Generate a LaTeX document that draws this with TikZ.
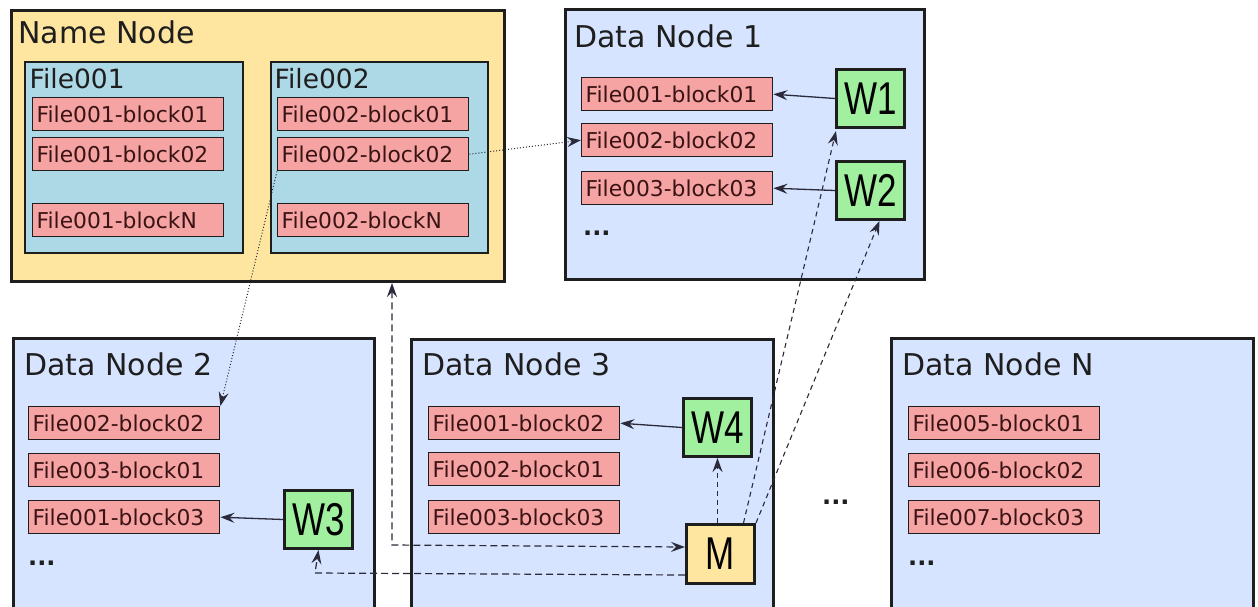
\documentclass[tikz,border=0pt]{standalone}
\usepackage{fontspec}
\setmainfont{DejaVu Sans}
\newfontfamily\wmfont[FakeStretch=0.76]{Liberation Sans}
\usetikzlibrary{arrows.meta}
\definecolor{nnfill}{HTML}{FFE6A0}
\definecolor{filefill}{HTML}{ADD8E6}
\definecolor{blkfill}{HTML}{F5A3A3}
\definecolor{dnfill}{HTML}{D6E4FF}
\definecolor{wfill}{HTML}{A0F0A0}
\definecolor{edge}{HTML}{1E1E1E}
\definecolor{blktext}{HTML}{3A1414}
\definecolor{linkcol}{HTML}{2A2A3A}

\tikzset{
  box/.style={draw=edge, anchor=north west, inner sep=0pt},
  nnbox/.style={box, fill=nnfill, line width=3pt},
  dnbox/.style={box, fill=dnfill, line width=2.5pt},
  filebox/.style={box, fill=filefill, line width=2pt},
  blk/.style={draw=edge, fill=blkfill, line width=1.4pt, anchor=north west,
    minimum height=33pt, text width=183pt, inner xsep=4pt, inner ysep=0pt,
    align=left, text=blktext, font=\fontsize{21.8pt}{24pt}\selectfont},
  worker/.style={box, fill=wfill, line width=3pt, minimum width=68pt, minimum height=58pt,
    font=\wmfont\fontsize{46pt}{50pt}\selectfont},
  master/.style={box, fill=nnfill, line width=3pt, minimum width=68pt, minimum height=59pt,
    font=\wmfont\fontsize{46pt}{50pt}\selectfont},
  title/.style={anchor=base west, inner sep=0pt, text=edge, font=\fontsize{30pt}{32pt}\selectfont},
  ftitle/.style={anchor=base west, inner sep=0pt, text=edge, font=\fontsize{26.5pt}{28pt}\selectfont},
  more/.style={anchor=base west, inner sep=0pt, text=edge, font=\bfseries\fontsize{24pt}{26pt}\selectfont},
  >={Stealth[length=14pt,width=10pt,inset=5pt]},
  write/.style={->, draw=linkcol, line width=1.3pt},
  ctrl/.style={draw=linkcol, line width=1.2pt, dash pattern=on 7pt off 4pt},
  ctrlfine/.style={->, draw=linkcol, line width=1.1pt, dash pattern=on 5pt off 4pt},
  repl/.style={->, draw=linkcol, line width=1pt, dotted},
}

\begin{document}
\begin{tikzpicture}[x=1pt,y=-1pt]
\useasboundingbox (0,0) rectangle (1258,606);
\clip (0,0) rectangle (1258,606);
\fill[white] (0,0) rectangle (1258,606);

% Name node with its file tables
\node[nnbox, minimum width=493pt, minimum height=271pt] (NN) at (10,9) {};
\node[title] (NNl) at (18,43) {Name Node};
\node[filebox, minimum width=218pt, minimum height=191pt] (F1) at (24,61) {};
\node[ftitle] (F1l) at (29.5,88) {File001};
\node[filebox, minimum width=217pt, minimum height=191pt] (F2) at (270,61) {};
\node[ftitle] (F2l) at (274.5,88) {File002};
\node[blk] (n11) at (32,97)  {File001-block01};
\node[blk] (n12) at (32,137) {File001-block02};
\node[blk] (n1N) at (32,203) {File001-blockN};
\node[blk] (n21) at (277,97)  {File002-block01};
\node[blk] (n22) at (277,137) {File002-block02};
\node[blk] (n2N) at (277,203) {File002-blockN};

% Data node 1
\node[dnbox, minimum width=359pt, minimum height=270pt] (D1) at (564,8) {};
\node[title] (D1l) at (574,47) {Data Node 1};
\node[blk] (d11) at (581,77)  {File001-block01};
\node[blk] (d12) at (581,123) {File002-block02};
\node[blk] (d13) at (581,171) {File003-block03};
\node[more] (d1m) at (583,235) {...};
\node[worker] (W1) at (835,68)  {W1};
\node[worker] (W2) at (835,160) {W2};

% Data node 2
\node[dnbox, minimum width=361pt, minimum height=300pt] (D2) at (12,337) {};
\node[title] (D2l) at (24,375) {Data Node 2};
\node[blk] (d21) at (28,406) {File002-block02};
\node[blk] (d22) at (28,453) {File003-block01};
\node[blk] (d23) at (28,500) {File001-block03};
\node[more] (d2m) at (28,565) {...};
\node[worker] (W3) at (283,489) {W3};

% Data node 3
\node[dnbox, minimum width=362pt, minimum height=300pt] (D3) at (410,338) {};
\node[title] (D3l) at (422,375) {Data Node 3};
\node[blk] (d31) at (428,406) {File001-block02};
\node[blk] (d32) at (428,452) {File002-block01};
\node[blk] (d33) at (428,500) {File003-block03};
\node[worker] (W4) at (682,397) {W4};
\node[master] (M) at (685,523) {M};

% Data node N
\node[dnbox, minimum width=362pt, minimum height=300pt] (DN) at (890,337) {};
\node[title] (DNl) at (902,375) {Data Node N};
\node[blk] (dN1) at (908,406) {File005-block01};
\node[blk] (dN2) at (908,453) {File006-block02};
\node[blk] (dN3) at (908,500) {File007-block03};
\node[more] (dNm) at (908,565) {...};
\node[more] (gap) at (822,504) {...};

% workers write blocks
\draw[write] (W1.west) -- (d11.east);
\draw[write] (W2.west) -- (d13.east);
\draw[write] (W3.west) -- (d23.east);
\draw[write] (W4.west) -- (d31.east);

% block locations known to the name node
\draw[repl] (n22.east) -- (d12.west);
\draw[repl] (n22.south west) -- (d21.north east);

% master control traffic
\coordinate (mc) at (392,545);
\draw[ctrl, <->] (NN.south -| mc) -- (mc) -- ([yshift=7pt]M.west);
\coordinate (mw) at (315,573);
\draw[ctrl, ->] ([yshift=-21pt]M.west) -- (mw) -- (W3.south);
\draw[ctrlfine] (M.north -| W4.south) -- (W4.south);
\draw[ctrlfine] ([xshift=23pt]M.north) -- ([xshift=1pt,yshift=-2pt]W1.south west);
\draw[ctrlfine] (M.north east) -- ([xshift=9pt]W2.south);
\end{tikzpicture}
\end{document}
